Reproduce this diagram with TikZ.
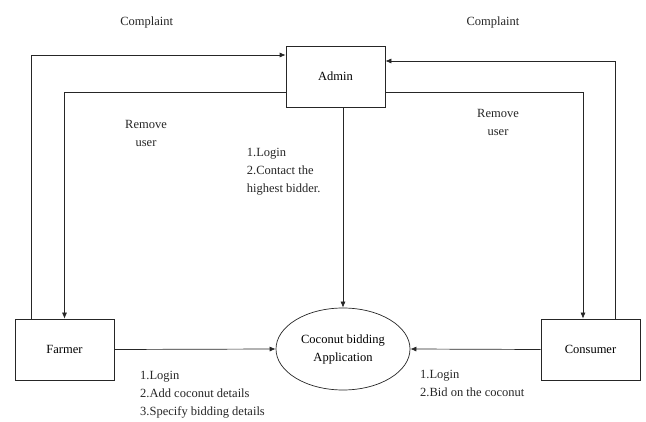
\documentclass[tikz,border=0pt]{standalone}
\usepackage{fontspec}
\setmainfont{Liberation Serif}
\usetikzlibrary{arrows.meta,shapes.geometric}
\begin{document}
\begin{tikzpicture}[x=1pt,y=-1pt, font=\fontsize{12.5}{18}\selectfont,
 box/.style={draw=black!85, line width=0.7pt, minimum width=99pt, minimum height=61pt, inner sep=0pt},
 conn/.style={draw=black!85, line width=0.7pt, -{Latex[length=6pt,width=5pt]}},
 lbl/.style={align=center, inner sep=0pt, text=black!85},
 lbll/.style={align=left, anchor=north west, inner sep=0pt, text=black!85}]
\useasboundingbox (0,0) rectangle (646,422);
\node[box] (admin) at (335.5,76.5) {Admin};
\node[box] (farmer) at (64.5,349.5) {Farmer};
\node[box] (consumer) at (590.5,349.5) {Consumer};
\node[ellipse, draw=black!85, line width=0.7pt, minimum width=134pt, minimum height=82pt, inner sep=0pt, align=center] (app) at (343,349) {Coconut bidding\\Application};
\coordinate (c1) at (31,55);
\coordinate (r1) at (64.5,92);
\coordinate (c2) at (615,61);
\coordinate (r2) at (583,92);
\draw[conn] (farmer.north -| c1) -- (c1) -- (c1 -| admin.west);
\draw[conn] (admin.west |- r1) -- (r1) -- (farmer.north);
\draw[conn] (admin.south -| app.north) -- (app.north);
\draw[conn] (consumer.north -| c2) -- (c2) -- (c2 -| admin.east);
\draw[conn] (admin.east |- r2) -- (r2) -- (r2 |- consumer.north);
\draw[conn] (farmer.east) -- (app.west);
\draw[conn] (consumer.west) -- (app.east);
\node[lbl] (lc1) at (146.7,22) {Complaint};
\node[lbl] (lc2) at (493,22) {Complaint};
\node[lbl] (lr1) at (146,133) {Remove\\user};
\node[lbl] (lr2) at (498,122) {Remove\\user};
\node[lbll] (la) at (246.7,148) {1.Login\\2.Contact the\\highest bidder.};
\node[lbll] (lf) at (140,371) {1.Login\\2.Add coconut details\\3.Specify bidding details};
\node[lbll] (lcn) at (420,370) {1.Login\\2.Bid on the coconut};
\end{tikzpicture}
\end{document}
